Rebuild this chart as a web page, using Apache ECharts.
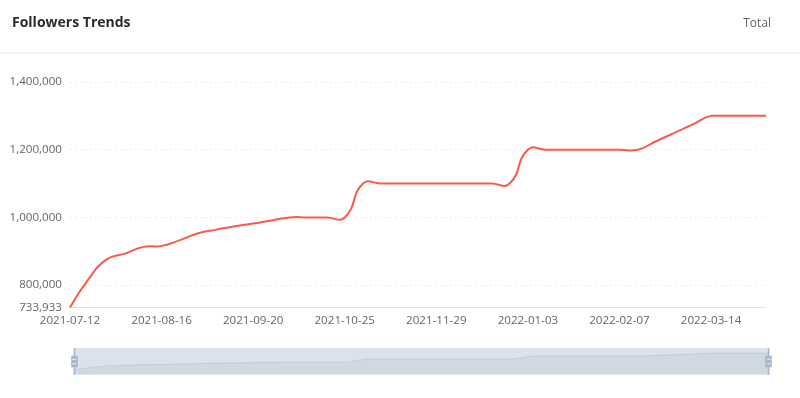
<!DOCTYPE html>
<html>
<head>
<meta charset="utf-8">
<script src="https://cdn.jsdelivr.net/npm/echarts@6/dist/echarts.min.js"></script>
<style>
html,body{margin:0;padding:0;background:#fff;}
#main{width:800px;height:398px;}
</style>
</head>
<body>
<div id="main"></div>
<script>
const titleText = 'Followers Trends';
const totalText = 'Total';
const dates = [
  '2021-07-12','2021-07-19','2021-07-26','2021-08-02','2021-08-09','2021-08-16','2021-08-23','2021-08-30',
  '2021-09-06','2021-09-13','2021-09-20','2021-09-27','2021-10-04','2021-10-11','2021-10-18','2021-10-25',
  '2021-11-01','2021-11-08','2021-11-15','2021-11-22','2021-11-29','2021-12-06','2021-12-13','2021-12-20',
  '2021-12-27','2022-01-03','2022-01-10','2022-01-17','2022-01-24','2022-01-31','2022-02-07','2022-02-14',
  '2022-02-21','2022-02-28','2022-03-07','2022-03-14','2022-03-21','2022-03-28','2022-04-04'
];
const followers = [
  733933, 817000, 876000, 893000, 913000, 916000, 933000, 953000,
  964000, 974000, 982000, 991000, 1000000, 1000000, 1000000, 1000000,
  1100000, 1100000, 1100000, 1100000, 1100000, 1100000, 1100000, 1100000,
  1100000, 1200000, 1200000, 1200000, 1200000, 1200000, 1200000, 1200000,
  1225000, 1250000, 1275000, 1300000, 1300000, 1300000, 1300000
];
const yMax = 1400000;

const lineColor = '#f95a4b';
const SMOOTH = 0.5;
const font = '"Open Sans", "Noto Sans", sans-serif';

// Whole smooth curve (classic ECharts 4 style spline) built from points mapped by the chart's own coordinate system
function renderCurve(params, api) {
  if (params.dataIndex !== 0) return null;
  const n = followers.length;
  const pts = [];
  for (let k = 0; k < n; k++) pts.push(api.coord([k, followers[k]]));
  let minX = Infinity, minY = Infinity, maxX = -Infinity, maxY = -Infinity;
  pts.forEach(p => { minX = Math.min(minX, p[0]); maxX = Math.max(maxX, p[0]); minY = Math.min(minY, p[1]); maxY = Math.max(maxY, p[1]); });
  const dist = (a, b) => Math.hypot(a[0] - b[0], a[1] - b[1]);
  const clamp = c => [Math.min(Math.max(c[0], minX), maxX), Math.min(Math.max(c[1], minY), maxY)];
  let d = 'M' + pts[0][0] + ' ' + pts[0][1];
  let cp0 = pts[0].slice();
  for (let i = 1; i < n; i++) {
    const p = pts[i];
    let cp1, r = 0.5, v = [0, 0];
    if (i === n - 1) {
      cp1 = p.slice();
    } else {
      const prev = pts[i - 1], next = pts[i + 1];
      v = [next[0] - prev[0], next[1] - prev[1]];
      const lp = dist(p, prev), ln = dist(p, next);
      r = ln / (ln + lp);
      cp1 = [p[0] - v[0] * SMOOTH * (1 - r), p[1] - v[1] * SMOOTH * (1 - r)];
    }
    const c0 = clamp(cp0), c1 = clamp(cp1);
    d += ' C' + c0[0] + ' ' + c0[1] + ' ' + c1[0] + ' ' + c1[1] + ' ' + p[0] + ' ' + p[1];
    cp0 = [p[0] + v[0] * SMOOTH * r, p[1] + v[1] * SMOOTH * r];
  }
  return {
    type: 'path',
    shape: {pathData: d},
    style: {stroke: lineColor, lineWidth: 2, fill: null, lineJoin: 'round'}
  };
}

const chart = echarts.init(document.getElementById('main'), null, {renderer:'canvas'});
chart.setOption({
  animation: false,
  backgroundColor: '#fff',
  title: {
    text: titleText,
    left: 12, top: 16.5, padding: 0,
    textStyle: {fontSize: 14, fontWeight: 'bold', color: '#2b2b2b', fontFamily: font}
  },
  graphic: [
    {type:'line', shape:{x1:0, y1:53, x2:800, y2:53}, style:{stroke:'#ebebeb', lineWidth:1}},
    {type:'text', right: 29, top: 17.5, style:{text: totalText, fill:'#666', font: '12px ' + font}}
  ],
  grid: {left: 70, right: 34, top: 82, bottom: 90.5, containLabel: false},
  xAxis: {
    type: 'category',
    data: dates,
    boundaryGap: false,
    axisLine: {lineStyle: {color: '#e3e3e3'}},
    axisTick: {show: false},
    axisLabel: {interval: 4, color: '#666', fontSize: 11.6, fontFamily: font, margin: 7}
  },
  yAxis: {
    type: 'value',
    min: 'dataMin',
    max: yMax,
    splitNumber: 3,
    axisLine: {show: false},
    axisTick: {show: false},
    axisLabel: {color: '#666', fontSize: 11.6, fontFamily: font, margin: 8},
    splitLine: {lineStyle: {color: '#ececec', type: [2, 3]}}
  },
  dataZoom: [{
    type: 'slider',
    start: 0, end: 100,
    left: 71, right: 33, top: 348, height: 27,
    backgroundColor: 'rgba(47,69,84,0)',
    borderColor: '#e2e6ee',
    borderRadius: 0,
    fillerColor: 'rgba(167,183,204,0.4)',
    dataBackground: {
      lineStyle: {color: '#2f4554', width: 0.5, opacity: 0.3},
      areaStyle: {color: 'rgba(47,69,84,0.3)', opacity: 0.3}
    },
    selectedDataBackground: {
      lineStyle: {color: '#2f4554', width: 0.5, opacity: 0.3},
      areaStyle: {color: 'rgba(47,69,84,0.3)', opacity: 0.3}
    },
    handleIcon: 'path://M8.2,13.6V3.9H6.3v9.7H3.1v14.9h3.3v9.7h1.8v-9.7h3.3V13.6H8.2z M9.7,24.4H4.8v-1.4h4.9V24.4z M9.7,19.1H4.8v-1.4h4.9V19.1z',
    handleSize: '100%',
    handleStyle: {color: '#a7b7cc', borderColor: '#a7b7cc', borderWidth: 0},
    moveHandleSize: 0,
    brushSelect: false,
    showDetail: false,
    textStyle: {color: '#666'}
  }],
  series: [
    {
      // provides the data shadow for the slider; the visible curve is drawn by the custom series
      type: 'line',
      data: followers,
      showSymbol: false,
      silent: true,
      lineStyle: {opacity: 0},
      itemStyle: {color: lineColor}
    },
    {
      type: 'custom',
      data: followers.map((v, i) => [i, v]),
      encode: {x: 0, y: 1},
      renderItem: renderCurve,
      silent: true
    }
  ]
});
</script>
</body>
</html>
